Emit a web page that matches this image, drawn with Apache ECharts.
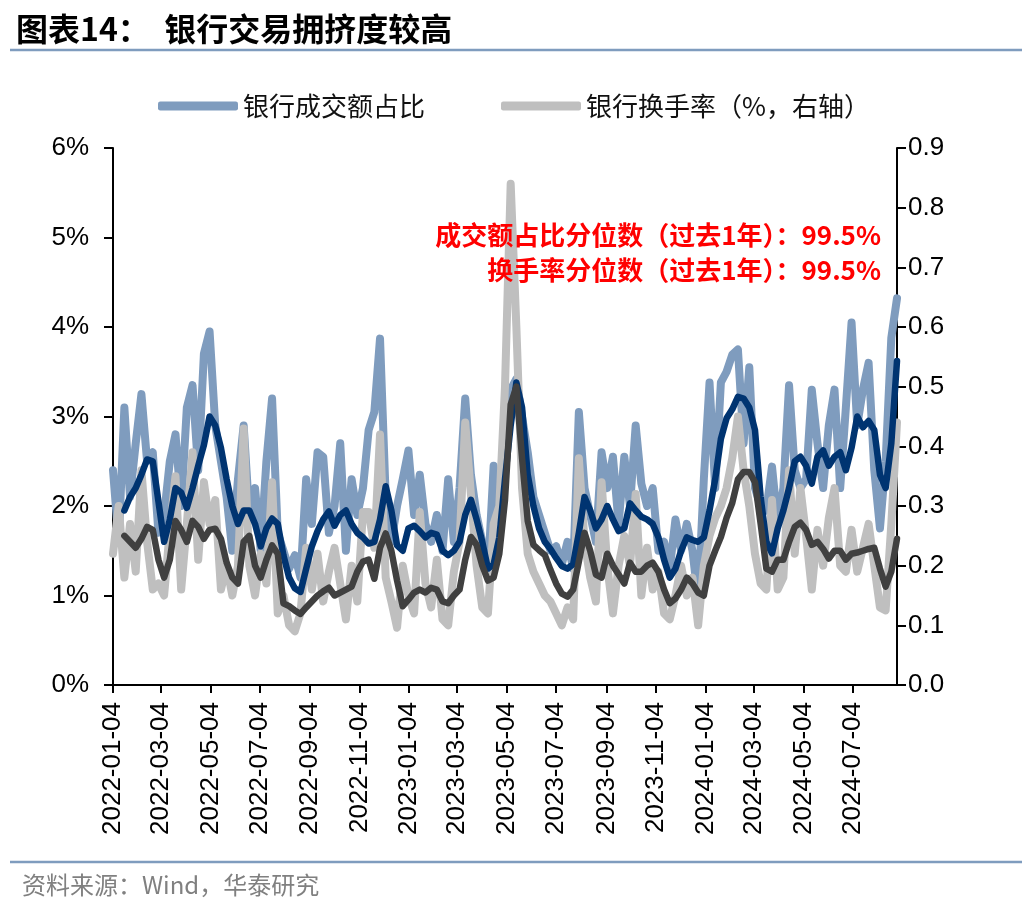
<!DOCTYPE html>
<html><head><meta charset="utf-8">
<script src="https://cdn.jsdelivr.net/npm/echarts@6/dist/echarts.min.js"></script>
<style>html,body{margin:0;padding:0;background:#fff}#c{width:1036px;height:916px}</style>
</head><body><div id="c"></div>
<script>
// x tick labels
const tickLabels = ['2022-01-04','2022-03-04','2022-05-04','2022-07-04','2022-09-04','2022-11-04',
  '2023-01-04','2023-03-04','2023-05-04','2023-07-04','2023-09-04','2023-11-04',
  '2024-01-04','2024-03-04','2024-05-04','2024-07-04'];
// weekly sample points, starting 2022-01-04
const weekCount = 139;
// 银行成交额占比 (%)
const shareRaw = [
 2.4,1.6,3.1,2.1,2.7,3.25,2.5,2.6,1.7,1.9,
 2.5,2.8,2.0,3.1,3.35,2.4,3.7,3.95,2.9,2.5,
 2.1,1.5,2.3,2.9,1.9,2.2,1.5,2.5,3.2,1.7,
 1.5,1.3,1.45,1.2,2.3,1.8,2.6,2.55,1.7,2.0,
 2.7,1.5,2.3,1.9,2.2,2.85,3.05,3.87,2.1,1.6,
 2.0,2.3,2.62,1.9,2.35,1.8,1.6,1.9,1.5,2.3,
 1.6,2.2,3.2,2.35,1.9,1.6,1.25,2.45,1.9,2.7,
 3.3,3.42,3.0,2.6,2.1,1.9,1.7,1.5,1.55,1.35,
 1.6,1.3,3.05,2.2,1.9,1.6,2.6,2.2,2.55,1.8,
 2.55,2.0,2.9,2.25,2.0,2.2,1.5,1.6,1.3,1.85,
 1.5,1.8,1.5,0.95,2.3,3.38,2.2,3.38,3.5,3.69,
 3.75,2.7,3.55,2.2,2.0,1.95,2.44,1.8,2.2,3.35,
 2.4,2.2,2.3,3.3,2.7,2.2,2.9,3.3,2.2,3.1,
 4.05,2.9,3.3,3.6,2.4,1.75,2.5,3.88,4.32];
// 成交额占比 moving average (%)
const shareMA = [
 null,null,1.95,2.1,2.2,2.35,2.52,2.5,2.05,1.6,
 1.85,2.2,2.15,1.98,2.2,2.45,2.68,3.0,2.9,2.65,
 2.3,2.0,1.8,1.95,1.95,1.8,1.55,1.75,1.86,1.8,
 1.45,1.2,1.08,1.04,1.3,1.55,1.72,1.85,1.94,1.78,
 1.9,1.95,1.8,1.7,1.65,1.58,1.6,1.85,2.22,1.95,
 1.56,1.5,1.75,1.78,1.72,1.65,1.7,1.68,1.5,1.45,
 1.5,1.6,1.9,2.07,1.85,1.6,1.3,1.35,1.65,2.3,
 2.9,3.38,3.1,2.35,2.0,1.75,1.6,1.52,1.42,1.33,
 1.3,1.35,1.7,2.1,1.95,1.75,1.85,2.0,1.85,1.72,
 1.75,2.03,1.95,1.88,1.85,1.8,1.65,1.4,1.2,1.3,
 1.5,1.65,1.62,1.6,1.65,1.95,2.3,2.75,2.98,3.08,
 3.22,3.2,3.1,2.85,2.1,1.6,1.47,1.75,1.95,2.2,
 2.5,2.55,2.45,2.25,2.55,2.62,2.45,2.55,2.6,2.4,
 2.65,3.0,2.88,2.95,2.85,2.35,2.2,2.7,3.62];
// 银行换手率 (%)
const turnRaw = [
 0.22,0.30,0.18,0.27,0.19,0.36,0.24,0.16,0.17,0.15,
 0.26,0.35,0.16,0.27,0.39,0.21,0.34,0.27,0.31,0.16,
 0.20,0.15,0.20,0.43,0.20,0.15,0.22,0.17,0.34,0.12,
 0.15,0.10,0.09,0.12,0.23,0.16,0.22,0.14,0.19,0.23,
 0.17,0.11,0.20,0.14,0.29,0.29,0.23,0.42,0.18,0.14,
 0.096,0.20,0.15,0.12,0.29,0.17,0.13,0.21,0.11,0.10,
 0.19,0.24,0.44,0.32,0.20,0.13,0.12,0.27,0.30,0.50,
 0.84,0.60,0.33,0.22,0.19,0.17,0.15,0.14,0.12,0.10,
 0.13,0.11,0.38,0.24,0.18,0.14,0.34,0.20,0.12,0.20,
 0.25,0.20,0.32,0.15,0.23,0.16,0.19,0.12,0.11,0.15,
 0.20,0.15,0.18,0.10,0.20,0.25,0.28,0.30,0.33,0.38,
 0.45,0.36,0.30,0.22,0.17,0.16,0.31,0.16,0.18,0.36,
 0.22,0.33,0.25,0.16,0.26,0.20,0.28,0.33,0.20,0.19,
 0.26,0.19,0.23,0.27,0.20,0.13,0.125,0.27,0.44];
// 换手率 moving average (%)
const turnMA = [
 null,null,0.25,0.24,0.23,0.245,0.265,0.26,0.21,0.18,
 0.21,0.275,0.26,0.24,0.275,0.265,0.245,0.26,0.262,0.245,
 0.205,0.18,0.17,0.24,0.25,0.2,0.18,0.21,0.234,0.22,
 0.137,0.132,0.125,0.119,0.13,0.14,0.15,0.157,0.163,0.15,
 0.155,0.16,0.165,0.19,0.207,0.21,0.178,0.23,0.254,0.225,
 0.175,0.132,0.143,0.155,0.16,0.155,0.163,0.16,0.14,0.137,
 0.15,0.16,0.21,0.248,0.235,0.2,0.175,0.18,0.22,0.31,
 0.47,0.5,0.38,0.275,0.235,0.226,0.218,0.193,0.17,0.153,
 0.148,0.16,0.207,0.255,0.225,0.185,0.18,0.22,0.2,0.185,
 0.17,0.205,0.19,0.19,0.2,0.205,0.19,0.16,0.137,0.145,
 0.16,0.18,0.17,0.155,0.15,0.2,0.225,0.248,0.28,0.305,
 0.345,0.357,0.357,0.34,0.27,0.195,0.19,0.21,0.21,0.24,
 0.265,0.272,0.26,0.235,0.24,0.228,0.212,0.225,0.225,0.21,
 0.22,0.222,0.225,0.228,0.23,0.195,0.165,0.19,0.245];

const weekDates = [];
for (let i = 0; i < weekCount; i++) weekDates.push(new Date(2022, 0, 4 + 7 * i).getTime());
function pairs(vals) { return vals.map((v, i) => [weekDates[i], v]); }
const tickValues = tickLabels.map(s => { const p = s.split('-'); return new Date(+p[0], +p[1] - 1, +p[2]).getTime(); });
function fmtDate(v) {
  const d = new Date(v);
  const mm = String(d.getMonth() + 1).padStart(2, '0');
  const dd = String(d.getDate()).padStart(2, '0');
  return d.getFullYear() + '-' + mm + '-' + dd;
}

const CJK = '"Noto Sans CJK SC", sans-serif';
const LAT = '"Liberation Sans", Arial, sans-serif';
const chart = echarts.init(document.getElementById('c'), null, { renderer: 'canvas' });
chart.setOption({
  animation: false,
  backgroundColor: '#fff',
  grid: { left: 113, right: 139, top: 148, bottom: 231, containLabel: false },
  legend: {
    data: ['银行成交额占比', '银行换手率（%，右轴）'],
    left: 153, top: 88,
    icon: 'roundRect', itemWidth: 80, itemHeight: 9, itemGap: 76,
    textStyle: { fontSize: 26, fontFamily: CJK, color: '#111' }
  },
  xAxis: {
    type: 'value',
    min: weekDates[0], max: weekDates[weekCount - 1],
    axisLine: { show: true, lineStyle: { color: '#000', width: 2 } },
    axisTick: { show: true, customValues: tickValues, length: 8, lineStyle: { color: '#000', width: 2 } },
    axisLabel: { customValues: tickValues, rotate: 90, margin: 17, formatter: fmtDate,
      fontSize: 26, fontFamily: LAT, color: '#000' },
    splitLine: { show: false }
  },
  yAxis: [
    { type: 'value', position: 'left', min: 0, max: 6, interval: 1,
      axisLine: { show: true, lineStyle: { color: '#000', width: 2 } },
      axisTick: { show: true, length: 9, lineStyle: { color: '#000', width: 2 } },
      axisLabel: { formatter: '{value}%', fontSize: 26, fontFamily: LAT, color: '#000', margin: 24 },
      splitLine: { show: false } },
    { type: 'value', position: 'right', min: 0, max: 0.9, interval: 0.1,
      axisLine: { show: true, lineStyle: { color: '#000', width: 2 } },
      axisTick: { show: true, length: 9, lineStyle: { color: '#000', width: 2 } },
      axisLabel: { formatter: v => v.toFixed(1), fontSize: 26, fontFamily: LAT, color: '#000', margin: 11 },
      splitLine: { show: false } }
  ],
  series: [
    { name: '银行成交额占比', type: 'line', yAxisIndex: 0, data: pairs(shareRaw), symbol: 'none', z: 1,
      itemStyle: { color: '#7F9CBE' }, lineStyle: { color: '#7F9CBE', width: 8, cap: 'round', join: 'round' } },
    { name: '银行换手率（%，右轴）', type: 'line', yAxisIndex: 1, data: pairs(turnRaw), symbol: 'none', z: 2,
      itemStyle: { color: '#BFBFBF' }, lineStyle: { color: '#BFBFBF', width: 8, cap: 'round', join: 'round' } },
    { name: '成交额占比均线', type: 'line', yAxisIndex: 0, data: pairs(shareMA), symbol: 'none', z: 3,
      itemStyle: { color: '#003471' }, lineStyle: { color: '#003471', width: 6.5, cap: 'round', join: 'round' } },
    { name: '换手率均线', type: 'line', yAxisIndex: 1, data: pairs(turnMA), symbol: 'none', z: 4,
      itemStyle: { color: '#404040' }, lineStyle: { color: '#404040', width: 6.5, cap: 'round', join: 'round' } }
  ],
  graphic: [
    { type: 'text', left: 16, top: 13, style: { text: '图表14：  银行交易拥挤度较高', font: 'bold 32px ' + CJK, fill: '#000' } },
    { type: 'line', shape: { x1: 10, y1: 50, x2: 1022, y2: 50 }, style: { stroke: '#7F9CBE', lineWidth: 2.5 } },
    { type: 'line', shape: { x1: 10, y1: 862, x2: 1022, y2: 862 }, style: { stroke: '#7F9CBE', lineWidth: 2.5 } },
    { type: 'text', left: 22, top: 873, style: { text: '资料来源：Wind，华泰研究', font: '24px ' + CJK, fill: '#808080' } },
    { type: 'text', z: 100, style: { x: 881, y: 235, text: '成交额占比分位数（过去1年）：99.5%', align: 'right', verticalAlign: 'middle',
      font: 'bold 26px ' + CJK, fill: '#FF0000' } },
    { type: 'text', z: 100, style: { x: 881, y: 270, text: '换手率分位数（过去1年）：99.5%', align: 'right', verticalAlign: 'middle',
      font: 'bold 26px ' + CJK, fill: '#FF0000' } }
  ]
});
</script></body></html>
